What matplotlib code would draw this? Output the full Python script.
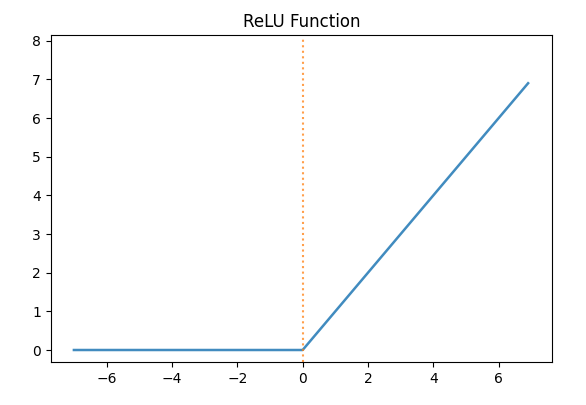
import matplotlib
matplotlib.use("Agg")
import matplotlib.pyplot as plt

# ReLU curve breakpoints
relu_x = [-7.0, 0.0, 6.9]
relu_y = [0.0, 0.0, 6.9]

# dotted marker at x = 0
vline_x = 0.0
vline_y = [-0.32, 8.05]

fig = plt.figure(figsize=(5.86, 4.05), dpi=100)
ax = fig.add_axes([50.7 / 586, 1 - 362.3 / 405, (552.3 - 50.7) / 586, (362.3 - 35) / 405])

ax.plot(relu_x, relu_y, color='#1f77b4', linewidth=1.8, alpha=0.85)
ax.plot([vline_x, vline_x], vline_y, ':', color='#ff7f0e', linewidth=1.5, alpha=0.75)

ax.set_xlim(-7.71, 7.64)
ax.set_ylim(-0.318, 8.147)
ax.set_xticks([-6, -4, -2, 0, 2, 4, 6])
ax.set_yticks(range(0, 9))
ax.tick_params(labelsize=10)
ax.set_title("ReLU Function", fontsize=12)

fig.savefig("out.png", dpi=100)
